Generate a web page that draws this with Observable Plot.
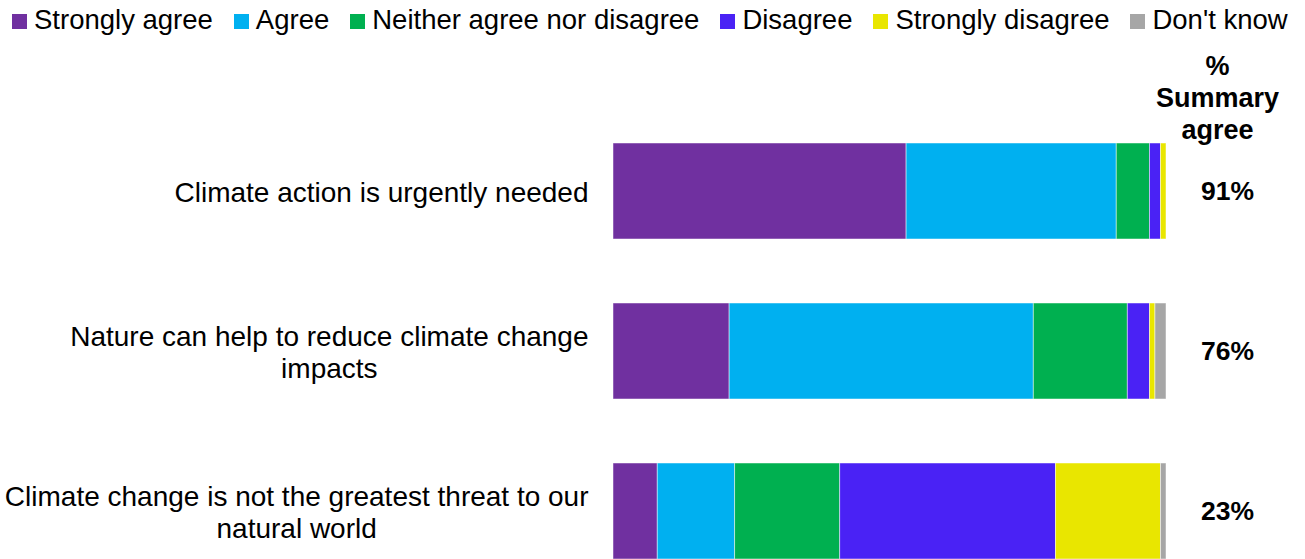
<!DOCTYPE html>
<html>
<head>
<meta charset="utf-8">
<script src="https://cdn.jsdelivr.net/npm/d3@7"></script>
<script src="https://cdn.jsdelivr.net/npm/@observablehq/plot@0.6"></script>
<style>
  html, body { margin: 0; padding: 0; background: #fff; }
  body { width: 1305px; height: 559px; overflow: hidden; font-family: Arial, "Liberation Sans", sans-serif; }
  #legend { height: 40px; display: flex; align-items: center; padding-left: 12px; font-size: 27.5px; color: #000; white-space: nowrap; }
  #legend .item { display: flex; align-items: center; margin-right: 21px; }
  #legend .sw { width: 15px; height: 15px; margin-right: 7px; margin-top: 3px; }
  #chart svg { display: block; }
</style>
</head>
<body>
<div id="legend"></div>
<div id="chart"></div>
<script>
const categories = [
  "Climate action is urgently needed",
  "Nature can help to reduce climate change\nimpacts",
  "Climate change is not the greatest threat to our\nnatural world"
];
const responses = ["Strongly agree", "Agree", "Neither agree nor disagree", "Disagree", "Strongly disagree", "Don't know"];
const responseColors = ["#7030A0", "#00B0F0", "#00B050", "#4A22F5", "#E9E600", "#A6A6A6"];

const stronglyAgree    = [53, 21, 8];
const agree            = [38, 55, 14];
const neither          = [6, 17, 19];
const disagree         = [2, 4, 39];
const stronglyDisagree = [1, 1, 19];
const dontKnow         = [0, 2, 1];
const summaryAgree     = ["91%", "76%", "23%"];
const summaryHeader    = "%\nSummary\nagree";

const series = [stronglyAgree, agree, neither, disagree, stronglyDisagree, dontKnow];
const rows = [];
categories.forEach((c, i) => {
  responses.forEach((r, j) => rows.push({category: c, response: r, value: series[j][i]}));
});
const summaryRows = categories.map((c, i) => ({category: c, label: summaryAgree[i]}));

// legend
const legend = document.getElementById("legend");
responses.forEach((r, j) => {
  const item = document.createElement("div");
  item.className = "item";
  const sw = document.createElement("span");
  sw.className = "sw";
  sw.style.background = responseColors[j];
  const t = document.createElement("span");
  t.textContent = r;
  item.appendChild(sw); item.appendChild(t);
  legend.appendChild(item);
});

const chart = Plot.plot({
  width: 1305,
  height: 519,
  marginLeft: 613,
  marginRight: 139,
  marginTop: 103,
  marginBottom: 0,
  style: {fontFamily: "Arial, 'Liberation Sans', sans-serif", background: "#fff", overflow: "visible"},
  x: {domain: [0, 100], axis: null},
  y: {domain: categories, axis: null, paddingInner: 0.4, paddingOuter: 0},
  color: {domain: responses, range: responseColors},
  marks: [
    Plot.barX(rows, Plot.stackX({
      x: "value", y: "category", fill: "response", order: responses,
      stroke: "#fff", strokeWidth: 0.8, strokeOpacity: 0.6, inset: 0
    })),
    Plot.text(categories, {
      y: d => d, text: d => d, frameAnchor: "left", textAnchor: "end",
      dx: -25, fontSize: 28, lineHeight: 1.15, fill: "#000"
    }),
    Plot.text(summaryRows, {
      y: "category", text: "label", frameAnchor: "right", textAnchor: "middle",
      dx: 61, fontSize: 26.5, fontWeight: "bold", fill: "#000"
    }),
    Plot.text([summaryHeader], {
      text: d => d, frameAnchor: "top-right", textAnchor: "middle", lineAnchor: "middle",
      dx: 51, dy: -47, fontSize: 27, fontWeight: "bold", lineHeight: 1.18, fill: "#000"
    })
  ]
});
document.getElementById("chart").appendChild(chart);

// center multi-line category labels within their right-aligned block
const textGroups = chart.querySelectorAll('g[aria-label="text"]');
if (textGroups.length) {
  textGroups[0].querySelectorAll("text").forEach(el => {
    const w = el.getBBox().width;
    el.setAttribute("text-anchor", "middle");
    const tr = el.getAttribute("transform") || "";
    el.setAttribute("transform", tr + ` translate(${-w / 2},0)`);
  });
}
</script>
</body>
</html>
